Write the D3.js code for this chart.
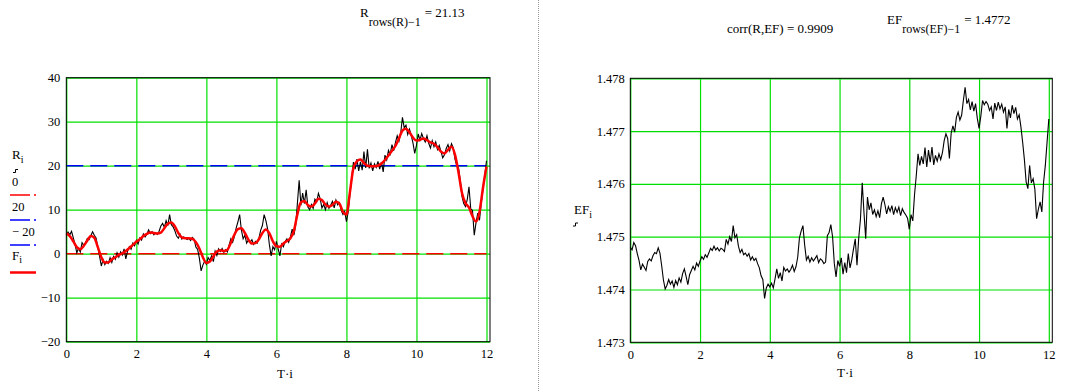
<!DOCTYPE html>
<html>
<head>
<meta charset="utf-8">
<script src="https://cdn.jsdelivr.net/npm/d3@7"></script>
<style>
  body { margin: 0; background: #fff; }
  svg, svg text, svg .tick text { font-family: "Liberation Serif", "DejaVu Serif", serif !important; fill: #000; }
</style>
</head>
<body>
<svg id="chart" width="1066" height="391" font-family="Liberation Serif"></svg>
<script>
// Data
const sampleStep = 0.05;   // spacing of R and EF samples along T·i
const smoothStep = 0.1;    // spacing of the F samples

const rValues = [
  4.2, 4.9, 4.3, 5.1, 3.6, 2.1, 0.2, 1.2, 0.4, 2.5, 1.9, 2.4, 3.5, 3.2, 4.1, 5.0, 4.2, 3.6, 1.5, -0.6,
  -2.8, -1.4, -2.5, -1.7, -2.2, -0.9, -2.0, -0.6, -1.3, 0.2, -0.8, 0.4, -0.3, 1.1, -1.2, 0.6, 1.6, 1.0, 2.4, 1.8,
  3.0, 2.2, 3.6, 3.1, 4.5, 3.8, 4.4, 5.4, 4.6, 5.0, 4.3, 4.8, 4.4, 5.1, 6.3, 6.9, 6.0, 7.5, 6.4, 8.9,
  6.6, 6.1, 5.2, 4.0, 3.5, 4.4, 3.3, 3.8, 3.6, 3.2, 3.5, 3.0, 3.7, 3.3, 1.5, 1.0, -1.0, -3.9, -2.6, -1.7,
  -2.4, -0.9, -1.5, -0.5, -1.8, 0.6, -0.4, 1.1, 0.5, 1.2, 0.3, 0.9, 0.4, 2.0, 3.4, 2.6, 3.9, 5.8, 7.2, 8.9,
  5.4, 3.4, 4.2, 2.4, 3.1, 2.6, 3.2, 2.1, 2.8, 2.4, 3.5, 5.3, 6.4, 8.9, 7.5, 5.6, 2.0, -0.5, 1.6, 0.9,
  2.8, 1.1, -0.5, 2.2, 1.6, 2.8, 3.4, 2.6, 3.8, 5.6, 4.2, 6.4, 11.5, 16.7, 11.0, 13.8, 11.4, 14.5, 10.6, 10.0,
  11.2, 10.3, 12.4, 11.8, 13.7, 12.5, 10.4, 11.2, 10.0, 11.6, 10.3, 11.0, 11.9, 10.4, 12.2, 11.1, 11.6, 9.9, 8.9, 9.6,
  7.3, 9.5, 13.5, 17.0, 20.8, 19.2, 21.5, 18.8, 20.9, 19.0, 23.2, 19.5, 23.7, 19.4, 20.6, 18.8, 20.4, 19.6, 21.0, 19.2,
  20.8, 18.6, 22.4, 21.3, 23.5, 22.6, 24.8, 23.4, 25.3, 26.8, 25.6, 27.4, 31.0, 28.6, 29.2, 27.1, 28.3, 26.9, 25.2, 22.8,
  24.6, 27.2, 25.8, 27.3, 26.2, 25.4, 26.8, 25.1, 24.0, 25.7, 24.3, 25.4, 23.7, 24.6, 23.2, 21.8, 22.5, 23.9, 24.8, 23.4,
  25.0, 24.1, 21.5, 20.0, 19.6, 16.7, 13.0, 11.4, 10.7, 12.3, 15.2, 10.2, 9.8, 4.2, 7.0, 9.2, 7.6, 11.5, 14.6, 17.8,
  21.13
];

const fValues = [
  4.6, 4.0, 2.8, 1.5, 1.0, 1.8, 3.0, 4.0, 3.6, 1.5,
  -0.8, -2.0, -2.0, -1.3, -0.8, -0.3, 0.1, 0.6, 1.3, 2.0,
  2.7, 3.3, 4.0, 4.5, 4.8, 4.7, 4.6, 4.8, 5.8, 6.8,
  7.1, 6.2, 4.7, 3.7, 3.5, 3.5, 3.4, 2.6, 1.2, -0.8,
  -2.1, -1.8, -0.6, 0.5, 0.8, 0.6, 0.9, 2.5, 4.3, 5.6,
  5.8, 4.7, 3.2, 2.3, 2.4, 3.3, 4.7, 5.5, 4.6, 2.8,
  1.7, 1.6, 2.3, 2.9, 3.5, 5.2, 9.0, 11.7, 12.0, 11.0,
  10.7, 11.4, 12.5, 12.2, 11.2, 10.7, 11.1, 11.8, 11.4, 9.5,
  8.9, 14.0, 19.5, 21.0, 21.4, 20.6, 20.0, 19.9, 19.9, 20.0,
  20.5, 21.3, 22.3, 23.4, 24.5, 26.2, 28.0, 28.4, 27.6, 26.4,
  25.7, 25.9, 26.2, 25.8, 25.3, 25.0, 24.2, 23.2, 22.8, 23.6,
  24.3, 22.5, 18.5, 13.8, 11.5, 10.5, 8.5, 7.3, 9.5, 15.0,
  19.8
];

const efValues = [
  1.47480, 1.47475, 1.47489, 1.47483, 1.47468, 1.47455, 1.47437, 1.47448, 1.47442, 1.47436, 1.47453, 1.47458, 1.47454, 1.47464, 1.47470, 1.47468, 1.47479, 1.47469, 1.47445, 1.47418,
  1.47401, 1.47408, 1.47419, 1.47410, 1.47416, 1.47404, 1.47417, 1.47409, 1.47422, 1.47414, 1.47430, 1.47439, 1.47425, 1.47409, 1.47428, 1.47436, 1.47444, 1.47437, 1.47450, 1.47444,
  1.47454, 1.47462, 1.47457, 1.47466, 1.47461, 1.47469, 1.47478, 1.47474, 1.47482, 1.47475, 1.47479, 1.47473, 1.47478, 1.47476, 1.47472, 1.47495, 1.47486, 1.47500, 1.47491, 1.47521,
  1.47498, 1.47504, 1.47482, 1.47470, 1.47476, 1.47466, 1.47469, 1.47463, 1.47468, 1.47456, 1.47462, 1.47455, 1.47459, 1.47449, 1.47441, 1.47426, 1.47419, 1.47383, 1.47403, 1.47410,
  1.47405, 1.47412, 1.47403, 1.47420, 1.47439, 1.47421, 1.47432, 1.47416, 1.47442, 1.47435, 1.47439, 1.47433, 1.47438, 1.47446, 1.47434, 1.47443, 1.47461, 1.47498, 1.47511, 1.47521,
  1.47484, 1.47456, 1.47463, 1.47452, 1.47460, 1.47454, 1.47459, 1.47464, 1.47451, 1.47458, 1.47455, 1.47449, 1.47452, 1.47502, 1.47508, 1.47523, 1.47500, 1.47449, 1.47424, 1.47455,
  1.47444, 1.47460, 1.47429, 1.47451, 1.47432, 1.47468, 1.47441, 1.47456, 1.47477, 1.47496, 1.47446, 1.47498, 1.47534, 1.47602, 1.47546, 1.47496, 1.47575, 1.47551, 1.47564, 1.47542,
  1.47551, 1.47538, 1.47549, 1.47536, 1.47562, 1.47575, 1.47561, 1.47543, 1.47557, 1.47548, 1.47559, 1.47542, 1.47555, 1.47546, 1.47556, 1.47540, 1.47553, 1.47546, 1.47541, 1.47535,
  1.47514, 1.47542, 1.47530, 1.47580, 1.47616, 1.47657, 1.47635, 1.47652, 1.47638, 1.47669, 1.47632, 1.47664, 1.47641, 1.47670, 1.47636, 1.47654, 1.47643, 1.47657, 1.47646, 1.47659,
  1.47682, 1.47695, 1.47686, 1.47648, 1.47696, 1.47710, 1.47698, 1.47726, 1.47736, 1.47721, 1.47730, 1.47758, 1.47783, 1.47752, 1.47760, 1.47740, 1.47756, 1.47738, 1.47752, 1.47724,
  1.47705, 1.47728, 1.47758, 1.47750, 1.47756, 1.47751, 1.47739, 1.47746, 1.47723, 1.47753, 1.47739, 1.47755, 1.47742, 1.47751, 1.47736, 1.47746, 1.47705, 1.47741, 1.47725, 1.47749,
  1.47733, 1.47745, 1.47723, 1.47731, 1.47708, 1.47679, 1.47646, 1.47604, 1.47591, 1.47635, 1.47602, 1.47610, 1.47590, 1.47534, 1.47552, 1.47566, 1.47547, 1.47603, 1.47635, 1.47679,
  1.47723
];

const refValues = [0, 20];          // horizontal reference traces 0 and 20
const xTicks = [0, 2, 4, 6, 8, 10, 12];
const rTicks = [-20, -10, 0, 10, 20, 30, 40];
const efTicks = [1.473, 1.474, 1.475, 1.476, 1.477, 1.478];
const xDomain = [0, 12.1];

// Layout and style
const serif = '"Liberation Serif", "DejaVu Serif", serif';
const gridColor = '#00e000';
const refColors = ['#ff0000', '#0000ff'];
const panels = {
    left:  { x0: 66.3, x1: 490, y0: 77.7, y1: 341.7 },
    right: { x0: 630.3, x1: 1052.3, y0: 78.3, y1: 342.3 }
};

const svg = d3.select('#chart');

// Frame, grid and tick labels for one panel
function drawFrame(box, x, y, yTicks, yFormat, yPad) {
    const g = svg.append('g');

    g.append('g')
        .attr('transform', `translate(0,${box.y1})`)
        .call(d3.axisBottom(x).tickValues(xTicks).tickSize(-(box.y1 - box.y0)).tickPadding(7.5).tickFormat(d3.format('d')))
        .attr('font-family', serif).attr('font-size', 12.5)
        .call(a => a.select('.domain').remove())
        .call(a => a.selectAll('line').attr('stroke', gridColor).attr('stroke-width', 1.2));

    g.append('g')
        .attr('transform', `translate(${box.x0},0)`)
        .call(d3.axisLeft(y).tickValues(yTicks).tickSize(-(box.x1 - box.x0)).tickPadding(yPad).tickFormat(yFormat))
        .attr('font-family', serif).attr('font-size', 12.5)
        .call(a => a.select('.domain').remove())
        .call(a => a.selectAll('line').attr('stroke', gridColor).attr('stroke-width', 1.2));

    return g;
}

function drawBorder(box) {
    svg.append('rect')
        .attr('x', box.x0).attr('y', box.y0)
        .attr('width', box.x1 - box.x0).attr('height', box.y1 - box.y0)
        .attr('fill', 'none').attr('stroke', '#000').attr('stroke-width', 1);
}

// ---- Left panel: R, F and reference levels
const L = panels.left;
const xL = d3.scaleLinear().domain(xDomain).range([L.x0, L.x1]);
const yL = d3.scaleLinear().domain([-20, 40]).range([L.y1, L.y0]);
drawFrame(L, xL, yL, rTicks, d3.format('d'), 6);

svg.append('g').selectAll('line')
    .data(refValues)
    .join('line')
    .attr('x1', L.x0).attr('x2', xL(12))
    .attr('y1', d => yL(d)).attr('y2', d => yL(d))
    .attr('stroke', (d, i) => refColors[i])
    .attr('stroke-width', 1.6)
    .attr('stroke-dasharray', '17,7');

const rLine = d3.line()
    .x((d, i) => xL(i * sampleStep))
    .y(d => yL(d));
svg.append('path')
    .datum(rValues)
    .attr('d', rLine)
    .attr('fill', 'none').attr('stroke', '#000').attr('stroke-width', 1.1);

const fLine = d3.line()
    .x((d, i) => xL(i * smoothStep))
    .y(d => yL(d))
    .curve(d3.curveMonotoneX);
svg.append('path')
    .datum(fValues)
    .attr('d', fLine)
    .attr('fill', 'none').attr('stroke', '#ff0000').attr('stroke-width', 2.5)
    .attr('stroke-linejoin', 'round');

drawBorder(L);

// ---- Right panel: EF
const Rb = panels.right;
const xR = d3.scaleLinear().domain(xDomain).range([Rb.x0, Rb.x1]);
const yR = d3.scaleLinear().domain([1.473, 1.478]).range([Rb.y1, Rb.y0]);
drawFrame(Rb, xR, yR, efTicks, d3.format('.3f'), 5.5);

const efLine = d3.line()
    .x((d, i) => xR(i * sampleStep))
    .y(d => yR(d));
svg.append('path')
    .datum(efValues)
    .attr('d', efLine)
    .attr('fill', 'none').attr('stroke', '#000').attr('stroke-width', 1.1);

drawBorder(Rb);

// ---- Separator between the two regions
svg.append('line')
    .attr('x1', 538.5).attr('x2', 538.5).attr('y1', 0).attr('y2', 391)
    .attr('stroke', '#9a9a9a').attr('stroke-width', 1).attr('stroke-dasharray', '1,1');

// ---- Axis titles
function subscripted(x, y, main, sub, size, subSize, drop) {
    const t = svg.append('text').attr('x', x).attr('y', y).attr('font-size', size).attr('font-family', serif);
    t.append('tspan').text(main);
    t.append('tspan').attr('font-size', subSize).attr('dy', drop).text(sub);
    return t;
}

function plainText(x, y, size, str, anchor) {
    return svg.append('text').attr('x', x).attr('y', y).attr('font-size', size)
        .attr('font-family', serif).attr('text-anchor', anchor || 'start').text(str);
}

plainText(285, 378, 13, 'T·i', 'middle');
plainText(845, 377, 13, 'T·i', 'middle');

// EF axis label with the small trace marker
subscripted(574, 214, 'EF', 'i', 13, 10, 3.5);
svg.append('path').attr('d', 'M573,226 H575.5 V223 H578').attr('fill', 'none').attr('stroke', '#000').attr('stroke-width', 1);

// Left legend (trace names)
subscripted(12, 159, 'R', 'i', 13, 10, 3.5);
svg.append('path').attr('d', 'M13,172.5 H15.5 V169.5 H18').attr('fill', 'none').attr('stroke', '#000').attr('stroke-width', 1);
plainText(12, 185.5, 12.5, '0');
svg.append('line').attr('x1', 10).attr('x2', 36).attr('y1', 195).attr('y2', 195)
    .attr('stroke', refColors[0]).attr('stroke-width', 1.5).attr('stroke-dasharray', '20,4');
plainText(12, 210.5, 12.5, '20');
svg.append('line').attr('x1', 10).attr('x2', 36).attr('y1', 220).attr('y2', 220)
    .attr('stroke', refColors[1]).attr('stroke-width', 1.5).attr('stroke-dasharray', '20,4');
plainText(12, 235.5, 12.5, '− 20');
svg.append('line').attr('x1', 10).attr('x2', 36).attr('y1', 245).attr('y2', 245)
    .attr('stroke', refColors[1]).attr('stroke-width', 1.5).attr('stroke-dasharray', '20,4');
subscripted(12, 259.5, 'F', 'i', 13, 10, 3.5);
svg.append('line').attr('x1', 10).attr('x2', 36).attr('y1', 272.5).attr('y2', 272.5)
    .attr('stroke', '#ff0000').attr('stroke-width', 2.5);

// ---- Result lines above the plots
const rLast = svg.append('text').attr('x', 360).attr('y', 16.6).attr('font-size', 13).attr('font-family', serif);
rLast.append('tspan').text('R');
rLast.append('tspan').attr('font-size', 12).attr('dy', 9).text('rows(R)−1');
rLast.append('tspan').attr('dy', -9).attr('dx', 4).text('= ' + rValues[rValues.length - 1].toFixed(2));

plainText(727, 32.5, 13, 'corr(R,EF) = 0.9909');

const efLast = svg.append('text').attr('x', 887).attr('y', 24).attr('font-size', 13).attr('font-family', serif);
efLast.append('tspan').text('EF');
efLast.append('tspan').attr('font-size', 12).attr('dy', 9).text('rows(EF)−1');
efLast.append('tspan').attr('dy', -9).attr('dx', 4).text('= ' + efValues[efValues.length - 1].toFixed(4));
</script>
</body>
</html>
